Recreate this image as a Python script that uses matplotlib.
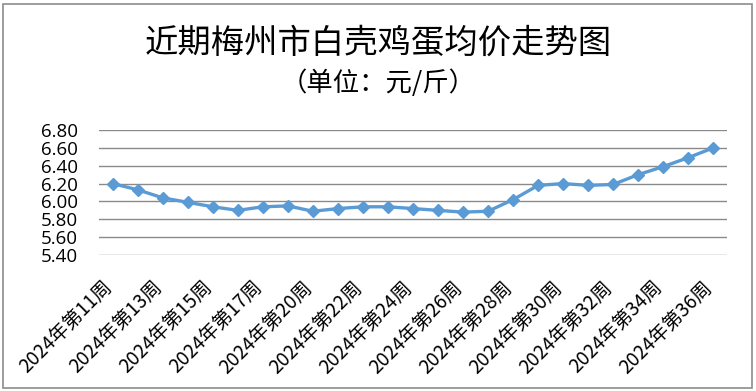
import matplotlib
matplotlib.use("Agg")
import matplotlib.pyplot as plt
from matplotlib.patches import Rectangle
from matplotlib.transforms import ScaledTranslation

plt.rcParams['font.family'] = ['Noto Sans CJK SC', 'DejaVu Sans']

weeks = [11, 12, 13, 14, 15, 16, 17, 19, 20, 21, 22, 23, 24, 25, 26, 27, 28,
         29, 30, 31, 32, 33, 34, 35, 36]
labels = [f"2024年第{w}周" for w in weeks]
prices = [6.20, 6.13, 6.04, 5.99, 5.94, 5.90, 5.94, 5.95, 5.89, 5.92, 5.94,
          5.94, 5.92, 5.90, 5.88, 5.89, 6.02, 6.18, 6.20, 6.18, 6.19, 6.30,
          6.39, 6.49, 6.60]
yticks = [5.40, 5.60, 5.80, 6.00, 6.20, 6.40, 6.60, 6.80]

W, H = 756, 391
fig = plt.figure(figsize=(W / 100, H / 100), dpi=100)
fig.patches.append(Rectangle((3 / W, 3 / H), 749 / W, 384 / H, transform=fig.transFigure,
                             fill=False, edgecolor='#8c8c8c', linewidth=1.2))

ax = fig.add_axes([99 / W, 1 - 255 / H, 628 / W, 125 / H])
x = list(range(len(prices)))
ax.plot(x, prices, color='#5B9BD5', linewidth=2.4, marker='D', markersize=6,
        markerfacecolor='#5B9BD5', markeredgecolor='#5B9BD5', zorder=3)
ax.set_xlim(-0.55, len(prices) - 0.45)
ax.set_ylim(5.40, 6.80)
ax.set_yticks(yticks)
ax.set_yticklabels([f"{v:.2f}" for v in yticks], fontsize=13.5, family=['Open Sans', 'DejaVu Sans'])
ax.yaxis.grid(True, color='#8a8a8a', linewidth=1.0)
ax.set_axisbelow(True)
for s in ax.spines.values():
    s.set_visible(False)
ax.tick_params(axis='y', length=0, pad=15)
ax.tick_params(axis='x', length=0, pad=21)
ax.set_xticks(x[::2])
ax.set_xticklabels(labels[::2], rotation=45, ha='right', va='center', rotation_mode='anchor',
                   fontsize=13.8)
off = ScaledTranslation(-4 / 100, 0, fig.dpi_scale_trans)
for lab in ax.get_xticklabels():
    lab.set_transform(lab.get_transform() + off)

fig.text(378 / W, 1 - 43 / H, "近期梅州市白壳鸡蛋均价走势图", ha='center', va='center', fontsize=24)
fig.text(378 / W, 1 - 83 / H, "（单位：元/斤）", ha='center', va='center', fontsize=19)

fig.savefig("out.png", dpi=100)
